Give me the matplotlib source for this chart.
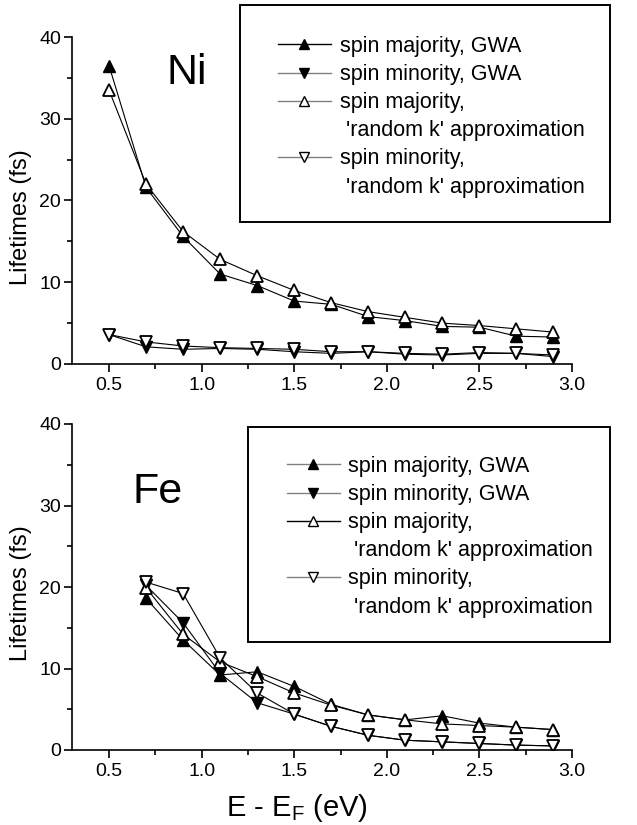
import matplotlib
matplotlib.use("Agg")
import matplotlib.pyplot as plt
from matplotlib.lines import Line2D
from matplotlib.patches import Rectangle
from matplotlib.ticker import MultipleLocator

plt.rcParams['font.family'] = ['Liberation Sans', 'DejaVu Sans']

# ------------------------------------
# data
# ------------------------------------
e_ni = [0.5, 0.7, 0.9, 1.1, 1.3, 1.5, 1.7, 1.9, 2.1, 2.3, 2.5, 2.7, 2.9]
ni_maj_gwa = [36.5, 21.6, 15.6, 11.0, 9.6, 7.7, 7.3, 5.8, 5.3, 4.6, 4.5, 3.4, 3.3]
ni_min_gwa = [3.6, 2.1, 1.8, 1.9, 1.8, 1.5, 1.3, 1.5, 1.2, 1.1, 1.3, 1.3, 0.9]
ni_maj_rk = [33.5, 22.0, 16.2, 12.8, 10.8, 9.0, 7.5, 6.4, 5.7, 5.0, 4.7, 4.3, 3.9]
ni_min_rk = [3.6, 2.7, 2.2, 2.0, 1.9, 1.8, 1.5, 1.5, 1.3, 1.2, 1.4, 1.3, 1.1]

e_fe = [0.7, 0.9, 1.1, 1.3, 1.5, 1.7, 1.9, 2.1, 2.3, 2.5, 2.7, 2.9]
fe_maj_gwa = [18.6, 13.5, 9.2, 9.6, 7.8, 5.6, 4.3, 3.7, 4.2, 3.3, 2.8, 2.5]
fe_min_gwa = [20.2, 15.6, 9.4, 5.8, 4.4, 2.9, 1.8, 1.2, 1.0, 0.8, 0.6, 0.5]
fe_maj_rk = [19.9, 14.2, 10.8, 9.0, 7.0, 5.5, 4.3, 3.7, 3.2, 3.0, 2.8, 2.5]
fe_min_rk = [20.6, 19.2, 11.3, 7.0, 4.4, 2.9, 1.8, 1.2, 1.0, 0.8, 0.6, 0.5]

labels = ["spin majority, GWA", "spin minority, GWA", "spin majority,",
          " 'random k' approximation", "spin minority,",
          " 'random k' approximation"]

W, H = 637, 825
fig = plt.figure(figsize=(W / 100, H / 100), dpi=100)

ax1 = fig.add_axes([72 / W, 1 - 364 / H, 500 / W, 327 / H])
ax2 = fig.add_axes([72 / W, 1 - 750 / H, 500 / W, 326 / H])


def draw(ax, x, maj_gwa, min_gwa, maj_rk, min_rk):
    ms = 8.5
    ax.plot(x, maj_gwa, '-', color='k', lw=0.8, marker='^', ms=ms,
            mfc='k', mec='k')
    ax.plot(x, min_gwa, '-', color='k', lw=0.8, marker='v', ms=ms,
            mfc='k', mec='k')
    ax.plot(x, maj_rk, '-', color='k', lw=0.8, marker='^', ms=ms,
            mfc='white', mec='k', mew=1.3)
    ax.plot(x, min_rk, '-', color='k', lw=0.8, marker='v', ms=ms,
            mfc='white', mec='k', mew=1.3)

    ax.set_xlim(0.3, 3.0)
    ax.set_ylim(0, 40)
    ax.xaxis.set_major_locator(MultipleLocator(0.5))
    ax.xaxis.set_minor_locator(MultipleLocator(0.25))
    ax.yaxis.set_major_locator(MultipleLocator(10))
    ax.yaxis.set_minor_locator(MultipleLocator(5))
    ax.xaxis.set_major_formatter(plt.FormatStrFormatter('%.1f'))
    for s in ['top', 'right']:
        ax.spines[s].set_visible(False)
    for s in ['left', 'bottom']:
        ax.spines[s].set_linewidth(1.2)
    ax.tick_params(which='major', direction='out', length=6, width=1.2,
                   labelsize=14)
    ax.tick_params(axis='y', which='major', pad=2)
    ax.tick_params(which='minor', direction='out', length=3.5, width=1.2)
    ax.set_ylabel("Lifetimes (fs)", fontsize=17)


def legend(ax, box, x0, y0, line_cols, tpad):
    # frame drawn separately so that it can be placed exactly
    bx0, by0, bx1, by1 = box
    fig.patches.append(Rectangle((bx0 / W, 1 - by1 / H), (bx1 - bx0) / W,
                                 (by1 - by0) / H, transform=fig.transFigure,
                                 fill=False, edgecolor='k', lw=1.4))
    sty = [('^', 'k'), ('v', 'k'), ('^', 'white'), (None, None),
           ('v', 'white'), (None, None)]
    handles = []
    ci = 0
    for m, fc in sty:
        if m is None:
            handles.append(Line2D([], [], ls='none'))
        else:
            handles.append(Line2D([], [], color=line_cols[ci], lw=1.0,
                                  marker=m, ms=7, mfc=fc, mec='k', mew=1.0))
            ci += 1
    leg = ax.legend(handles, labels, loc='upper left',
                    bbox_to_anchor=(x0 / W, 1 - y0 / H),
                    bbox_transform=fig.transFigure, fontsize=15.5,
                    frameon=False, handlelength=2.45,
                    handletextpad=tpad, labelspacing=0.33, borderpad=0,
                    borderaxespad=0)
    return leg


draw(ax1, e_ni, ni_maj_gwa, ni_min_gwa, ni_maj_rk, ni_min_rk)
draw(ax2, e_fe, fe_maj_gwa, fe_min_gwa, fe_maj_rk, fe_min_rk)

legend(ax1, (240, 5, 610, 222), 278, 36, ['k', '0.5', '0.5', '0.5'], 0.45)
legend(ax2, (248, 427, 610, 642), 287, 456, ['0.5', '0.5', 'k', '0.5'], 0.38)

ax1.text(0.23, 0.89, "Ni", transform=ax1.transAxes, fontsize=31,
         ha='center', va='center')
ax2.text(0.172, 0.79, "Fe", transform=ax2.transAxes, fontsize=31,
         ha='center', va='center')

ax1.yaxis.set_label_coords(-0.08, 0.45)
ax2.yaxis.set_label_coords(-0.08, 0.48)
ax2.set_xlabel("E - E$_\\mathregular{F}$ (eV)", fontsize=21)
ax2.xaxis.set_label_coords(0.45, -0.13)

fig.savefig("out.png", dpi=100)
